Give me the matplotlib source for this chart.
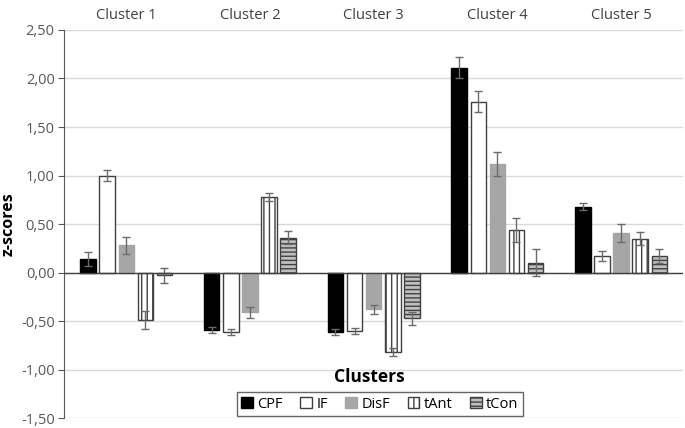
import matplotlib.pyplot as plt
import numpy as np
from matplotlib.patches import Patch

clusters = ['Cluster 1', 'Cluster 2', 'Cluster 3', 'Cluster 4', 'Cluster 5']
series = ['CPF', 'IF', 'DisF', 'tAnt', 'tCon']

# z-scores per series (one value per cluster)
cpf = [0.14, -0.59, -0.61, 2.11, 0.68]
if_ = [1.00, -0.61, -0.60, 1.76, 0.17]
disf = [0.28, -0.41, -0.38, 1.12, 0.41]
tant = [-0.49, 0.78, -0.82, 0.44, 0.35]
tcon = [-0.03, 0.36, -0.47, 0.10, 0.17]

# error bar half-widths
cpf_err = [0.07, 0.03, 0.03, 0.11, 0.04]
if_err = [0.06, 0.03, 0.03, 0.11, 0.05]
disf_err = [0.09, 0.055, 0.05, 0.12, 0.09]
tant_err = [0.09, 0.04, 0.04, 0.12, 0.065]
tcon_err = [0.08, 0.065, 0.065, 0.14, 0.075]

yticks = [-1.5, -1.0, -0.5, 0.0, 0.5, 1.0, 1.5, 2.0, 2.5]

values = [cpf, if_, disf, tant, tcon]
errors = [cpf_err, if_err, disf_err, tant_err, tcon_err]
faces = ['black', 'white', '#a6a6a6', 'white', '#bfbfbf']
edges = ['black', '#404040', '#a6a6a6', '#404040', '#404040']
hatches = [None, None, None, '|||', '----']

plt.rcParams['font.family'] = ['Open Sans', 'DejaVu Sans']
plt.rcParams['hatch.linewidth'] = 1.0

fig = plt.figure(figsize=(6.85, 4.28), dpi=100)
ax = fig.add_axes([0.094, 0.023, 0.903, 0.907])

x = np.arange(len(clusters))
step = 0.1545
width = 0.125
for i, (vals, errs) in enumerate(zip(values, errors)):
    pos = x + (i - 2) * step
    ax.bar(pos, vals, width, color=faces[i], edgecolor=edges[i],
           hatch=hatches[i], linewidth=1.0, zorder=3, label=series[i])
    ax.errorbar(pos, vals, yerr=errs, fmt='none', ecolor='#6b6b6b',
                elinewidth=1.0, capsize=3, capthick=1.0, zorder=4)

ax.set_xlim(-0.5, len(clusters) - 0.5)
ax.set_ylim(-1.5, 2.5)
ax.set_yticks(yticks)
ax.set_yticklabels([('%.2f' % v).replace('.', ',') for v in yticks],
                   color='#595959', fontsize=10.5)
ax.yaxis.grid(True, color='#d9d9d9', linewidth=1.0, zorder=0)
ax.set_axisbelow(True)
ax.axhline(0, color='#404040', linewidth=1.0, zorder=5)

ax.xaxis.tick_top()
ax.set_xticks(x)
ax.set_xticklabels(clusters, fontsize=10.5, color='#404040')
ax.tick_params(axis='x', length=0, pad=5)
ax.tick_params(axis='y', length=4, color='#595959', direction='out', pad=3)

for s in ['top', 'right', 'bottom']:
    ax.spines[s].set_visible(False)
ax.spines['left'].set_color('#595959')

ax.set_ylabel('z-scores', fontsize=11.5, fontweight='bold', labelpad=3)
ax.text(0.493, 0.105, 'Clusters', transform=ax.transAxes, ha='center',
        va='center', fontsize=12.5, fontweight='bold')

handles = [Patch(facecolor=faces[i], edgecolor=edges[i], hatch=hatches[i],
                 label=series[i]) for i in range(len(series))]
leg = ax.legend(handles=handles, ncol=5, loc='center',
                bbox_to_anchor=(0.51, 0.036), fontsize=10.5, frameon=True,
                fancybox=False, edgecolor='#404040', handlelength=0.8,
                handleheight=0.8, handletextpad=0.3, columnspacing=1.2,
                borderpad=0.3)
leg.get_frame().set_linewidth(1.0)

fig.savefig('out.png', dpi=100)
